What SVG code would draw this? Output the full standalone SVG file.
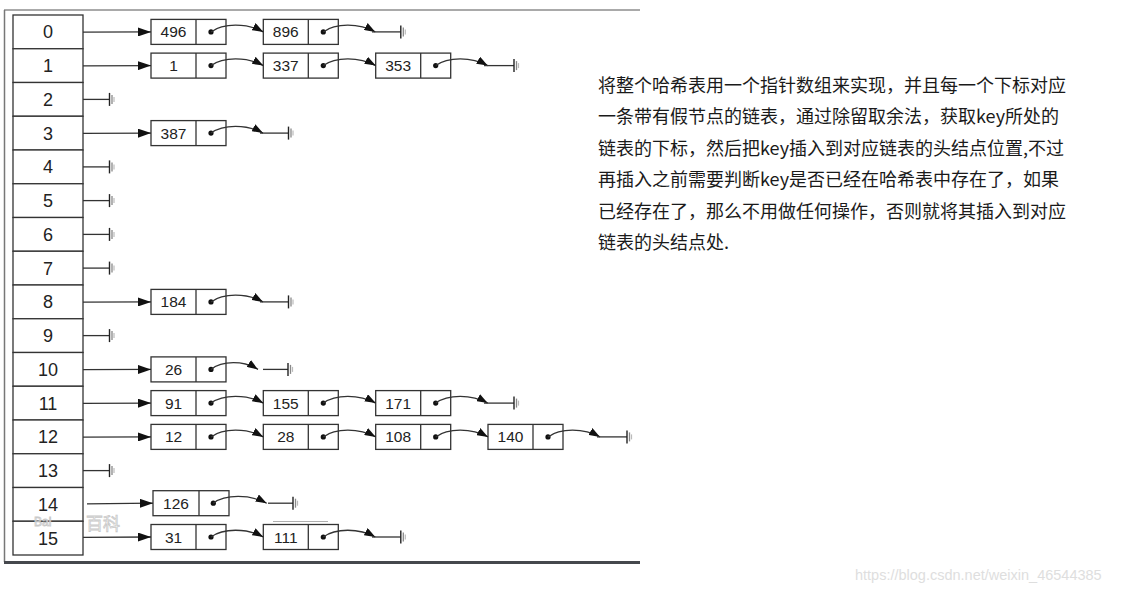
<svg xmlns="http://www.w3.org/2000/svg" xmlns:xlink="http://www.w3.org/1999/xlink" width="1137" height="594" viewBox="0 0 1137 594">
<style>
.cell{fill:#fff;stroke:#333;stroke-width:1.3}
.idx{font-family:"Liberation Sans",Arial,sans-serif;font-size:18px;fill:#222;text-anchor:middle}
.nrect{fill:#fff;stroke:#333;stroke-width:1.3}
.div{stroke:#333;stroke-width:1.3}
.val{font-family:"Liberation Sans",Arial,sans-serif;font-size:15.5px;fill:#222;text-anchor:middle}
.dot{fill:#111}
.arr{stroke:#333;stroke-width:1.3;fill:none;marker-end:url(#ah)}
.crv{stroke:#333;stroke-width:1.3;fill:none;marker-end:url(#ah2)}
.ln{stroke:#333;stroke-width:1.3}
.desc{font-family:"Noto Sans CJK SC","Microsoft YaHei",sans-serif;font-size:18px;fill:#1a1a1a}
.wm{fill:#fff;stroke:#c4c4c4;stroke-width:0.8;opacity:0.9}
</style>
<defs>
<marker id="ah" viewBox="0 0 13 9" refX="13" refY="4.5" markerWidth="13" markerHeight="9" markerUnits="userSpaceOnUse" orient="auto"><path d="M0,0 L13,4.5 L0,9 z" fill="#111"/></marker>
<marker id="ah2" viewBox="0 0 11 8" refX="11" refY="4" markerWidth="11" markerHeight="8" markerUnits="userSpaceOnUse" orient="auto"><path d="M0,0 L11,4 L0,8 z" fill="#111"/></marker>
<g id="gnd"><line x1="0" y1="-6.5" x2="0" y2="6.5" stroke="#222" stroke-width="1.4"/><line x1="2.5" y1="-4.5" x2="2.5" y2="4.5" stroke="#888" stroke-width="1.3"/><line x1="4.5" y1="-2.5" x2="4.5" y2="2.5" stroke="#bbb" stroke-width="1.2"/></g>
</defs>
<rect width="1137" height="594" fill="#fff"/>
<g id="frame">
<line x1="4" y1="10" x2="640" y2="10" stroke="#555" stroke-width="1"/>
<line x1="4.5" y1="10" x2="4.5" y2="562" stroke="#777" stroke-width="1.5"/>
<line x1="4" y1="562.5" x2="640" y2="562.5" stroke="#45484d" stroke-width="3"/>
</g>
<g id="array">
<g id="cell0"><rect class="cell" x="13" y="15" width="70" height="33.75"/><text class="idx" x="48" y="38.4">0</text></g>
<g id="cell1"><rect class="cell" x="13" y="48.75" width="70" height="33.75"/><text class="idx" x="48" y="72.1">1</text></g>
<g id="cell2"><rect class="cell" x="13" y="82.5" width="70" height="33.75"/><text class="idx" x="48" y="105.9">2</text></g>
<g id="cell3"><rect class="cell" x="13" y="116.25" width="70" height="33.75"/><text class="idx" x="48" y="139.6">3</text></g>
<g id="cell4"><rect class="cell" x="13" y="150" width="70" height="33.75"/><text class="idx" x="48" y="173.4">4</text></g>
<g id="cell5"><rect class="cell" x="13" y="183.75" width="70" height="33.75"/><text class="idx" x="48" y="207.1">5</text></g>
<g id="cell6"><rect class="cell" x="13" y="217.5" width="70" height="33.75"/><text class="idx" x="48" y="240.9">6</text></g>
<g id="cell7"><rect class="cell" x="13" y="251.25" width="70" height="33.75"/><text class="idx" x="48" y="274.6">7</text></g>
<g id="cell8"><rect class="cell" x="13" y="285" width="70" height="33.75"/><text class="idx" x="48" y="308.4">8</text></g>
<g id="cell9"><rect class="cell" x="13" y="318.75" width="70" height="33.75"/><text class="idx" x="48" y="342.1">9</text></g>
<g id="cell10"><rect class="cell" x="13" y="352.5" width="70" height="33.75"/><text class="idx" x="48" y="375.9">10</text></g>
<g id="cell11"><rect class="cell" x="13" y="386.25" width="70" height="33.75"/><text class="idx" x="48" y="409.6">11</text></g>
<g id="cell12"><rect class="cell" x="13" y="420" width="70" height="33.75"/><text class="idx" x="48" y="443.4">12</text></g>
<g id="cell13"><rect class="cell" x="13" y="453.75" width="70" height="33.75"/><text class="idx" x="48" y="477.1">13</text></g>
<g id="cell14"><rect class="cell" x="13" y="487.5" width="70" height="33.75"/><text class="idx" x="48" y="510.9">14</text></g>
<g id="cell15"><rect class="cell" x="13" y="521.25" width="70" height="33.75"/><text class="idx" x="48" y="544.6">15</text></g>
</g>
<g id="n0_496"><rect class="nrect" x="151" y="19.4" width="75" height="25"/><line class="div" x1="196" y1="19.4" x2="196" y2="44.4"/><text class="val" x="173.5" y="37.4">496</text><circle class="dot" cx="211" cy="31.9" r="2.6"/></g>
<g id="n0_896"><rect class="nrect" x="263.3" y="19.4" width="75" height="25"/><line class="div" x1="308.3" y1="19.4" x2="308.3" y2="44.4"/><text class="val" x="285.8" y="37.4">896</text><circle class="dot" cx="323.3" cy="31.9" r="2.6"/></g>
<g id="n1_1"><rect class="nrect" x="151" y="53.1" width="75" height="25"/><line class="div" x1="196" y1="53.1" x2="196" y2="78.1"/><text class="val" x="173.5" y="71.1">1</text><circle class="dot" cx="211" cy="65.6" r="2.6"/></g>
<g id="n1_337"><rect class="nrect" x="263.3" y="53.1" width="75" height="25"/><line class="div" x1="308.3" y1="53.1" x2="308.3" y2="78.1"/><text class="val" x="285.8" y="71.1">337</text><circle class="dot" cx="323.3" cy="65.6" r="2.6"/></g>
<g id="n1_353"><rect class="nrect" x="375.7" y="53.1" width="75" height="25"/><line class="div" x1="420.7" y1="53.1" x2="420.7" y2="78.1"/><text class="val" x="398.2" y="71.1">353</text><circle class="dot" cx="435.7" cy="65.6" r="2.6"/></g>
<g id="n3_387"><rect class="nrect" x="151" y="120.6" width="75" height="25"/><line class="div" x1="196" y1="120.6" x2="196" y2="145.6"/><text class="val" x="173.5" y="138.6">387</text><circle class="dot" cx="211" cy="133.1" r="2.6"/></g>
<g id="n8_184"><rect class="nrect" x="151" y="289.4" width="75" height="25"/><line class="div" x1="196" y1="289.4" x2="196" y2="314.4"/><text class="val" x="173.5" y="307.4">184</text><circle class="dot" cx="211" cy="301.9" r="2.6"/></g>
<g id="n10_26"><rect class="nrect" x="151" y="356.9" width="75" height="25"/><line class="div" x1="196" y1="356.9" x2="196" y2="381.9"/><text class="val" x="173.5" y="374.9">26</text><circle class="dot" cx="211" cy="369.4" r="2.6"/></g>
<g id="n11_91"><rect class="nrect" x="151" y="390.6" width="75" height="25"/><line class="div" x1="196" y1="390.6" x2="196" y2="415.6"/><text class="val" x="173.5" y="408.6">91</text><circle class="dot" cx="211" cy="403.1" r="2.6"/></g>
<g id="n11_155"><rect class="nrect" x="263.3" y="390.6" width="75" height="25"/><line class="div" x1="308.3" y1="390.6" x2="308.3" y2="415.6"/><text class="val" x="285.8" y="408.6">155</text><circle class="dot" cx="323.3" cy="403.1" r="2.6"/></g>
<g id="n11_171"><rect class="nrect" x="375.7" y="390.6" width="75" height="25"/><line class="div" x1="420.7" y1="390.6" x2="420.7" y2="415.6"/><text class="val" x="398.2" y="408.6">171</text><circle class="dot" cx="435.7" cy="403.1" r="2.6"/></g>
<g id="n12_12"><rect class="nrect" x="151" y="424.4" width="75" height="25"/><line class="div" x1="196" y1="424.4" x2="196" y2="449.4"/><text class="val" x="173.5" y="442.4">12</text><circle class="dot" cx="211" cy="436.9" r="2.6"/></g>
<g id="n12_28"><rect class="nrect" x="263.3" y="424.4" width="75" height="25"/><line class="div" x1="308.3" y1="424.4" x2="308.3" y2="449.4"/><text class="val" x="285.8" y="442.4">28</text><circle class="dot" cx="323.3" cy="436.9" r="2.6"/></g>
<g id="n12_108"><rect class="nrect" x="375.7" y="424.4" width="75" height="25"/><line class="div" x1="420.7" y1="424.4" x2="420.7" y2="449.4"/><text class="val" x="398.2" y="442.4">108</text><circle class="dot" cx="435.7" cy="436.9" r="2.6"/></g>
<g id="n12_140"><rect class="nrect" x="488" y="424.4" width="75" height="25"/><line class="div" x1="533" y1="424.4" x2="533" y2="449.4"/><text class="val" x="510.5" y="442.4">140</text><circle class="dot" cx="548" cy="436.9" r="2.6"/></g>
<g id="n14_126"><rect class="nrect" x="153" y="490.7" width="76" height="25"/><line class="div" x1="199" y1="490.7" x2="199" y2="515.7"/><text class="val" x="176" y="508.7">126</text><circle class="dot" cx="213.3" cy="503.2" r="2.6"/></g>
<g id="n15_31"><rect class="nrect" x="151" y="524.5" width="75" height="25"/><line class="div" x1="196" y1="524.5" x2="196" y2="549.5"/><text class="val" x="173.5" y="542.5">31</text><circle class="dot" cx="211" cy="537" r="2.6"/></g>
<g id="n15_111"><rect class="nrect" x="263.3" y="524.5" width="75" height="25"/><line class="div" x1="308.3" y1="524.5" x2="308.3" y2="549.5"/><text class="val" x="285.8" y="542.5">111</text><circle class="dot" cx="323.3" cy="537" r="2.6"/></g>
<g id="connectors">
<line class="arr" x1="83" y1="32.2" x2="151" y2="31.9"/>
<path class="crv" d="M211,31.9 C223,22.9 247,22.9 263.3,31.9"/>
<path class="crv" d="M323.3,31.9 C335.3,22.9 359.3,22.9 375.3,31.9"/>
<line class="ln" x1="372" y1="31.9" x2="400.8" y2="31.9"/><use xlink:href="#gnd" x="400.8" y="31.9"/>
<line class="arr" x1="83" y1="65.9" x2="151" y2="65.6"/>
<path class="crv" d="M211,65.6 C223,56.6 247,56.6 263.3,65.6"/>
<path class="crv" d="M323.3,65.6 C335.3,56.6 359.3,56.6 375.7,65.6"/>
<path class="crv" d="M435.7,65.6 C447.7,56.6 471.7,56.6 487.7,65.6"/>
<line class="ln" x1="484" y1="65.6" x2="514" y2="65.6"/><use xlink:href="#gnd" x="514" y="65.6"/>
<line class="ln" x1="83" y1="99.4" x2="109.5" y2="99.4"/><use xlink:href="#gnd" x="109.5" y="99.4"/>
<line class="arr" x1="83" y1="133.4" x2="151" y2="133.1"/>
<path class="crv" d="M211,133.1 C223,124.1 247,124.1 263,133.1"/>
<line class="ln" x1="260" y1="133.1" x2="288.5" y2="133.1"/><use xlink:href="#gnd" x="288.5" y="133.1"/>
<line class="ln" x1="83" y1="166.9" x2="109.5" y2="166.9"/><use xlink:href="#gnd" x="109.5" y="166.9"/>
<line class="ln" x1="83" y1="200.6" x2="109.5" y2="200.6"/><use xlink:href="#gnd" x="109.5" y="200.6"/>
<line class="ln" x1="83" y1="234.4" x2="109.5" y2="234.4"/><use xlink:href="#gnd" x="109.5" y="234.4"/>
<line class="ln" x1="83" y1="268.1" x2="109.5" y2="268.1"/><use xlink:href="#gnd" x="109.5" y="268.1"/>
<line class="arr" x1="83" y1="302.2" x2="151" y2="301.9"/>
<path class="crv" d="M211,301.9 C223,292.9 247,292.9 263,301.9"/>
<line class="ln" x1="260" y1="301.9" x2="288.5" y2="301.9"/><use xlink:href="#gnd" x="288.5" y="301.9"/>
<line class="ln" x1="83" y1="335.6" x2="109.5" y2="335.6"/><use xlink:href="#gnd" x="109.5" y="335.6"/>
<line class="arr" x1="83" y1="369.7" x2="151" y2="369.4"/>
<path class="crv" d="M211,369.4 C222,360.4 244,360.4 258,369.4"/>
<line class="ln" x1="263" y1="369.4" x2="288" y2="369.4"/><use xlink:href="#gnd" x="288" y="369.4"/>
<line class="arr" x1="83" y1="403.4" x2="151" y2="403.1"/>
<path class="crv" d="M211,403.1 C223,394.1 247,394.1 263.3,403.1"/>
<path class="crv" d="M323.3,403.1 C335.3,394.1 359.3,394.1 375.7,403.1"/>
<path class="crv" d="M435.7,403.1 C447.7,394.1 471.7,394.1 487.7,403.1"/>
<line class="ln" x1="484" y1="403.1" x2="514" y2="403.1"/><use xlink:href="#gnd" x="514" y="403.1"/>
<line class="arr" x1="83" y1="437.2" x2="151" y2="436.9"/>
<path class="crv" d="M211,436.9 C223,427.9 247,427.9 263.3,436.9"/>
<path class="crv" d="M323.3,436.9 C335.3,427.9 359.3,427.9 375.7,436.9"/>
<path class="crv" d="M435.7,436.9 C447.7,427.9 471.7,427.9 488,436.9"/>
<path class="crv" d="M548,436.9 C560,427.9 584,427.9 600,436.9"/>
<line class="ln" x1="597" y1="436.9" x2="627" y2="436.9"/><use xlink:href="#gnd" x="627" y="436.9"/>
<line class="ln" x1="83" y1="470.6" x2="109.5" y2="470.6"/><use xlink:href="#gnd" x="109.5" y="470.6"/>
<line class="arr" x1="87" y1="503.8" x2="153" y2="503.2"/>
<path class="crv" d="M213.3,503.2 C225,494.2 250,494.2 266.7,503.2"/>
<line class="ln" x1="268" y1="503.2" x2="293" y2="503.2"/><use xlink:href="#gnd" x="293" y="503.2"/>
<line class="arr" x1="83" y1="537.3" x2="151" y2="537"/>
<path class="crv" d="M211,537 C223,528 247,528 263.3,537"/>
<path class="crv" d="M323.3,537 C335.3,528 359.3,528 375.3,537"/>
<line class="ln" x1="372" y1="537" x2="400.8" y2="537"/><use xlink:href="#gnd" x="400.8" y="537"/>
</g>
<g id="artifacts">
<line x1="273" y1="521.5" x2="328" y2="521.5" stroke="#999" stroke-width="0.8"/>
<text class="wm" x="34" y="525.5" font-family="Liberation Sans,Arial,sans-serif" font-size="12">Bai</text>
<text class="wm" x="86" y="530" font-family="Noto Sans CJK SC,sans-serif" font-size="17">百科</text>
</g>
<g id="description">
<text class="desc" x="598" y="91.8">将整个哈希表用一个指针数组来实现，并且每一个下标对应</text>
<text class="desc" x="598" y="123.3">一条带有假节点的链表，通过除留取余法，获取key所处的</text>
<text class="desc" x="598" y="154.8">链表的下标，然后把key插入到对应链表的头结点位置,不过</text>
<text class="desc" x="598" y="186.3">再插入之前需要判断key是否已经在哈希表中存在了，如果</text>
<text class="desc" x="598" y="217.8">已经存在了，那么不用做任何操作，否则就将其插入到对应</text>
<text class="desc" x="598" y="249.3">链表的头结点处.</text>
</g>
<text id="watermark" x="855" y="580" font-family="Liberation Sans,Arial,sans-serif" font-size="14.5" fill="#dedede">https://blog.csdn.net/weixin_46544385</text>
</svg>
